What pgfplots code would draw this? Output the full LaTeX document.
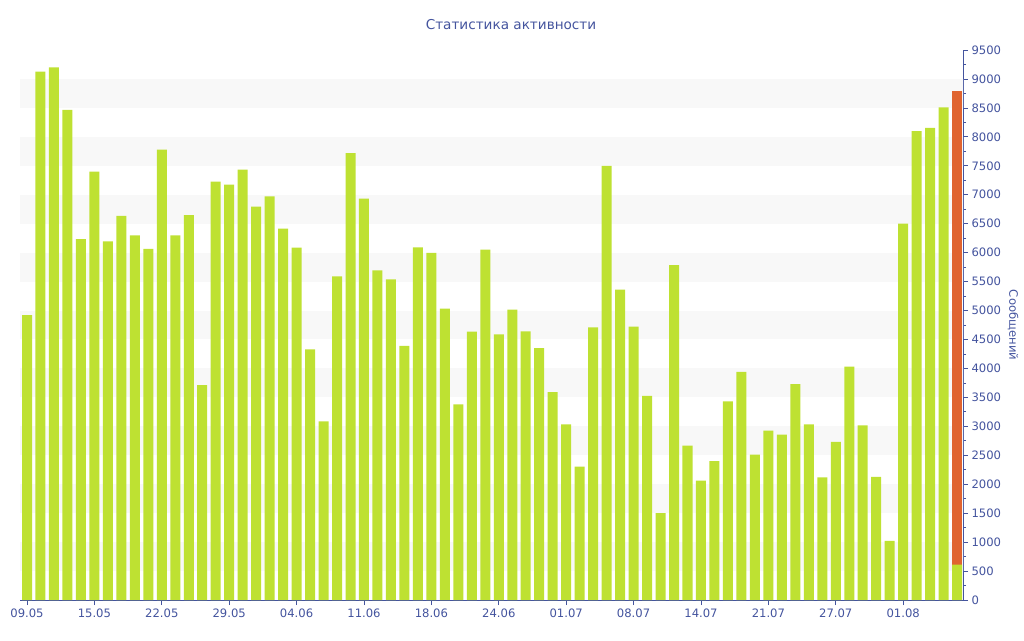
\documentclass[border=0pt]{standalone}
\usepackage{fontspec}
\setmainfont{DejaVu Sans}
\usepackage{pgfplots}
\pgfplotsset{compat=1.18}
\definecolor{bargreen}{RGB}{190,225,50}
\definecolor{barorange}{RGB}{224,100,48}
\definecolor{axblue}{RGB}{68,84,158}
\definecolor{band}{RGB}{248,248,248}
\begin{document}
\begin{tikzpicture}
\useasboundingbox (0,0) rectangle (1024pt,640pt);
\begin{axis}[
  at={(20pt,40pt)}, anchor=south west,
  scale only axis, width=943pt, height=550pt,
  xmin=-0.52, xmax=69.44, ymin=0, ymax=9500,
  axis x line*=bottom, axis y line*=right,
  axis line style={-, axblue, line width=0.8pt},
  tick align=outside,
  major tick length=5pt, minor tick length=3pt,
  tick style={axblue, line width=0.7pt},
  xtick={0,5,...,65},
  xticklabels={09.05,15.05,22.05,29.05,04.06,11.06,18.06,24.06,01.07,08.07,14.07,21.07,27.07,01.08},
  ytick={0,500,...,9500},
  minor ytick={250,750,...,9250},
  xminorticks=false,
  ticklabel style={font=\fontsize{11.6}{13}\selectfont, text=axblue},
  /pgf/number format/.cd, 1000 sep={}, assume math mode=true,
]
\fill[band] (axis cs:-1,500) rectangle (axis cs:71,1000);
\fill[band] (axis cs:-1,1500) rectangle (axis cs:71,2000);
\fill[band] (axis cs:-1,2500) rectangle (axis cs:71,3000);
\fill[band] (axis cs:-1,3500) rectangle (axis cs:71,4000);
\fill[band] (axis cs:-1,4500) rectangle (axis cs:71,5000);
\fill[band] (axis cs:-1,5500) rectangle (axis cs:71,6000);
\fill[band] (axis cs:-1,6500) rectangle (axis cs:71,7000);
\fill[band] (axis cs:-1,7500) rectangle (axis cs:71,8000);
\fill[band] (axis cs:-1,8500) rectangle (axis cs:71,9000);
\addplot[ybar, bar width=10pt, bar shift=0pt, fill=barorange, draw=none] coordinates {(69,8800)};
\addplot[ybar, bar width=10pt, bar shift=0pt, fill=bargreen, draw=none] coordinates {
(0,4920) (1,9125) (2,9200) (3,8465) (4,6235) (5,7400) (6,6195) (7,6635) (8,6300) (9,6065)
(10,7780) (11,6300) (12,6650) (13,3710) (14,7225) (15,7175) (16,7435) (17,6795) (18,6970) (19,6415)
(20,6085) (21,4330) (22,3085) (23,5590) (24,7720) (25,6935) (26,5695) (27,5540) (28,4390) (29,6090)
(30,5995) (31,5035) (32,3380) (33,4635) (34,6050) (35,4590) (36,5015) (37,4640) (38,4350) (39,3590)
(40,3035) (41,2305) (42,4710) (43,7500) (44,5360) (45,4720) (46,3525) (47,1500) (48,5785) (49,2665)
(50,2060) (51,2400) (52,3430) (53,3940) (54,2510) (55,2925) (56,2855) (57,3730) (58,3035) (59,2120)
(60,2730) (61,4030) (62,3015) (63,2125) (64,1020) (65,6500) (66,8100) (67,8155) (68,8510) (69,610)
};
\end{axis}
\node[text=axblue, font=\fontsize{13.6}{16}\selectfont] at (511pt,615pt) {Статистика активности};
\node[text=axblue, font=\fontsize{11.6}{13}\selectfont, rotate=-90] at (1013pt,315pt) {Сообщений};
\end{tikzpicture}
\end{document}
